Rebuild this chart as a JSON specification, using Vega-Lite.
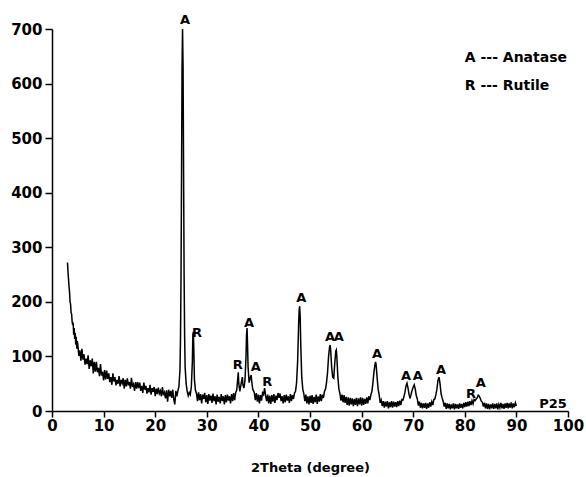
{
  "$schema": "https://vega.github.io/schema/vega-lite/v6.json",
  "width": 516,
  "height": 382,
  "autosize": "none",
  "padding": {"left": 52, "top": 29, "right": 18, "bottom": 66},
  "background": "white",
  "config": {"view": {"stroke": null}},
  "datasets": {
    "scan": [
      {"t":3.0,"i":272},{"t":3.1,"i":255},{"t":3.2,"i":242},{"t":3.3,"i":228},{"t":3.4,"i":218},{"t":3.5,"i":200},{"t":3.6,"i":196},{"t":3.7,"i":180},{"t":3.8,"i":178},{"t":3.9,"i":164},
      {"t":4.0,"i":158},{"t":4.1,"i":162},{"t":4.2,"i":140},{"t":4.3,"i":152},{"t":4.4,"i":132},{"t":4.5,"i":143},{"t":4.6,"i":122},{"t":4.7,"i":136},{"t":4.8,"i":114},{"t":4.9,"i":128},
      {"t":5.0,"i":122},{"t":5.2,"i":101},{"t":5.4,"i":111},{"t":5.6,"i":92},{"t":5.8,"i":114},{"t":6.0,"i":94},{"t":6.2,"i":104},{"t":6.4,"i":85},{"t":6.6,"i":96},{"t":6.8,"i":86},
      {"t":7.0,"i":102},{"t":7.2,"i":77},{"t":7.4,"i":93},{"t":7.6,"i":82},{"t":7.8,"i":96},{"t":8.0,"i":69},{"t":8.2,"i":90},{"t":8.4,"i":72},{"t":8.6,"i":90},{"t":8.8,"i":71},
      {"t":9.0,"i":79},{"t":9.2,"i":64},{"t":9.4,"i":86},{"t":9.6,"i":65},{"t":9.8,"i":72},{"t":10.0,"i":56},{"t":10.2,"i":75},{"t":10.4,"i":58},{"t":10.6,"i":74},{"t":10.8,"i":59},
      {"t":11.0,"i":69},{"t":11.2,"i":53},{"t":11.4,"i":62},{"t":11.6,"i":48},{"t":11.8,"i":69},{"t":12.0,"i":54},{"t":12.2,"i":62},{"t":12.4,"i":47},{"t":12.6,"i":57},{"t":12.8,"i":50},
      {"t":13.0,"i":64},{"t":13.2,"i":45},{"t":13.4,"i":57},{"t":13.6,"i":51},{"t":13.8,"i":60},{"t":14.0,"i":41},{"t":14.2,"i":57},{"t":14.4,"i":45},{"t":14.6,"i":60},{"t":14.8,"i":47},
      {"t":15.0,"i":53},{"t":15.2,"i":41},{"t":15.4,"i":61},{"t":15.6,"i":44},{"t":15.8,"i":49},{"t":16.0,"i":37},{"t":16.2,"i":53},{"t":16.4,"i":41},{"t":16.6,"i":53},{"t":16.8,"i":42},
      {"t":17.0,"i":52},{"t":17.2,"i":37},{"t":17.4,"i":46},{"t":17.6,"i":33},{"t":17.8,"i":52},{"t":18.0,"i":39},{"t":18.2,"i":46},{"t":18.4,"i":32},{"t":18.6,"i":42},{"t":18.8,"i":34},
      {"t":19.0,"i":48},{"t":19.2,"i":30},{"t":19.4,"i":42},{"t":19.6,"i":35},{"t":19.8,"i":44},{"t":20.0,"i":27},{"t":20.2,"i":41},{"t":20.4,"i":31},{"t":20.6,"i":43},{"t":20.8,"i":32},
      {"t":21.0,"i":37},{"t":21.2,"i":27},{"t":21.4,"i":44},{"t":21.6,"i":29},{"t":21.8,"i":34},{"t":22.0,"i":23},{"t":22.2,"i":38},{"t":22.4,"i":17},{"t":22.6,"i":39},{"t":22.8,"i":27},
      {"t":23.0,"i":37},{"t":23.2,"i":24},{"t":23.4,"i":39},{"t":23.6,"i":21},{"t":23.8,"i":12},{"t":24.0,"i":37},{"t":24.2,"i":27},{"t":24.4,"i":37},{"t":24.6,"i":45},{"t":24.8,"i":75},
      {"t":24.9,"i":130},{"t":25.0,"i":240},{"t":25.1,"i":420},{"t":25.2,"i":630},{"t":25.3,"i":700},{"t":25.4,"i":630},{"t":25.5,"i":440},{"t":25.6,"i":250},{"t":25.7,"i":140},{"t":25.8,"i":80},
      {"t":26.0,"i":50},{"t":26.2,"i":36},{"t":26.4,"i":28},{"t":26.6,"i":34},{"t":26.8,"i":30},{"t":27.0,"i":44},{"t":27.2,"i":90},{"t":27.3,"i":140},{"t":27.4,"i":145},{"t":27.5,"i":105},
      {"t":27.6,"i":58},{"t":27.8,"i":38},{"t":28.0,"i":32},{"t":28.2,"i":18},{"t":28.4,"i":34},{"t":28.6,"i":20},{"t":28.8,"i":31},{"t":29.0,"i":14},{"t":29.2,"i":30},{"t":29.4,"i":22},
      {"t":29.6,"i":33},{"t":29.8,"i":16},{"t":30.0,"i":29},{"t":30.2,"i":13},{"t":30.4,"i":31},{"t":30.6,"i":19},{"t":30.8,"i":28},{"t":31.0,"i":15},{"t":31.2,"i":32},{"t":31.4,"i":18},
      {"t":31.6,"i":27},{"t":31.8,"i":12},{"t":32.0,"i":30},{"t":32.2,"i":17},{"t":32.4,"i":26},{"t":32.6,"i":14},{"t":32.8,"i":31},{"t":33.0,"i":18},{"t":33.2,"i":27},{"t":33.4,"i":12},
      {"t":33.6,"i":29},{"t":33.8,"i":16},{"t":34.0,"i":30},{"t":34.2,"i":19},{"t":34.4,"i":27},{"t":34.6,"i":14},{"t":34.8,"i":31},{"t":35.0,"i":18},{"t":35.2,"i":33},{"t":35.4,"i":20},
      {"t":35.6,"i":34},{"t":35.8,"i":38},{"t":36.0,"i":60},{"t":36.1,"i":71},{"t":36.2,"i":50},{"t":36.4,"i":36},{"t":36.6,"i":47},{"t":36.8,"i":58},{"t":36.9,"i":62},{"t":37.0,"i":48},
      {"t":37.2,"i":42},{"t":37.4,"i":56},{"t":37.6,"i":100},{"t":37.7,"i":140},{"t":37.8,"i":152},{"t":37.9,"i":120},{"t":38.0,"i":80},{"t":38.2,"i":52},{"t":38.4,"i":60},{"t":38.6,"i":66},
      {"t":38.7,"i":55},{"t":38.9,"i":40},{"t":39.2,"i":34},{"t":39.4,"i":20},{"t":39.6,"i":33},{"t":39.8,"i":17},{"t":40.0,"i":30},{"t":40.2,"i":14},{"t":40.4,"i":29},{"t":40.6,"i":19},
      {"t":40.8,"i":33},{"t":41.0,"i":30},{"t":41.2,"i":42},{"t":41.4,"i":28},{"t":41.6,"i":18},{"t":41.8,"i":30},{"t":42.0,"i":14},{"t":42.2,"i":28},{"t":42.4,"i":13},{"t":42.6,"i":29},
      {"t":42.8,"i":17},{"t":43.0,"i":31},{"t":43.2,"i":15},{"t":43.4,"i":28},{"t":43.6,"i":20},{"t":43.8,"i":33},{"t":44.0,"i":24},{"t":44.2,"i":32},{"t":44.4,"i":18},{"t":44.6,"i":27},
      {"t":44.8,"i":14},{"t":45.0,"i":29},{"t":45.2,"i":16},{"t":45.4,"i":30},{"t":45.6,"i":19},{"t":45.8,"i":27},{"t":46.0,"i":15},{"t":46.2,"i":31},{"t":46.4,"i":18},{"t":46.6,"i":29},
      {"t":46.8,"i":22},{"t":47.0,"i":33},{"t":47.2,"i":36},{"t":47.4,"i":52},{"t":47.6,"i":90},{"t":47.8,"i":160},{"t":47.9,"i":185},{"t":48.0,"i":192},{"t":48.1,"i":172},{"t":48.2,"i":125},
      {"t":48.4,"i":62},{"t":48.6,"i":40},{"t":48.8,"i":32},{"t":49.0,"i":18},{"t":49.2,"i":30},{"t":49.4,"i":14},{"t":49.6,"i":27},{"t":49.8,"i":12},{"t":50.0,"i":28},{"t":50.2,"i":15},
      {"t":50.4,"i":29},{"t":50.6,"i":13},{"t":50.8,"i":26},{"t":51.0,"i":16},{"t":51.2,"i":30},{"t":51.4,"i":13},{"t":51.6,"i":27},{"t":51.8,"i":17},{"t":52.0,"i":31},{"t":52.2,"i":18},
      {"t":52.4,"i":30},{"t":52.6,"i":24},{"t":52.8,"i":36},{"t":53.0,"i":40},{"t":53.2,"i":52},{"t":53.4,"i":70},{"t":53.6,"i":100},{"t":53.8,"i":118},{"t":53.9,"i":121},{"t":54.0,"i":112},
      {"t":54.2,"i":80},{"t":54.4,"i":62},{"t":54.6,"i":60},{"t":54.8,"i":88},{"t":55.0,"i":110},{"t":55.1,"i":112},{"t":55.2,"i":100},{"t":55.4,"i":62},{"t":55.6,"i":40},{"t":55.8,"i":32},
      {"t":56.0,"i":19},{"t":56.2,"i":30},{"t":56.4,"i":16},{"t":56.6,"i":29},{"t":56.8,"i":15},{"t":57.0,"i":26},{"t":57.2,"i":11},{"t":57.4,"i":25},{"t":57.6,"i":10},{"t":57.8,"i":24},
      {"t":58.0,"i":12},{"t":58.2,"i":23},{"t":58.4,"i":9},{"t":58.6,"i":22},{"t":58.8,"i":11},{"t":59.0,"i":24},{"t":59.2,"i":9},{"t":59.4,"i":23},{"t":59.6,"i":12},{"t":59.8,"i":25},
      {"t":60.0,"i":10},{"t":60.2,"i":24},{"t":60.4,"i":11},{"t":60.6,"i":22},{"t":60.8,"i":13},{"t":61.0,"i":25},{"t":61.2,"i":14},{"t":61.4,"i":27},{"t":61.6,"i":20},{"t":61.8,"i":30},
      {"t":62.0,"i":36},{"t":62.2,"i":52},{"t":62.4,"i":72},{"t":62.6,"i":86},{"t":62.7,"i":90},{"t":62.8,"i":86},{"t":63.0,"i":62},{"t":63.2,"i":40},{"t":63.4,"i":30},{"t":63.6,"i":15},
      {"t":63.8,"i":20},{"t":64.0,"i":9},{"t":64.2,"i":18},{"t":64.4,"i":6},{"t":64.6,"i":17},{"t":64.8,"i":8},{"t":65.0,"i":18},{"t":65.2,"i":5},{"t":65.4,"i":16},{"t":65.6,"i":7},
      {"t":65.8,"i":18},{"t":66.0,"i":6},{"t":66.2,"i":17},{"t":66.4,"i":8},{"t":66.6,"i":16},{"t":66.8,"i":7},{"t":67.0,"i":18},{"t":67.2,"i":9},{"t":67.4,"i":19},{"t":67.6,"i":11},
      {"t":67.8,"i":21},{"t":68.0,"i":20},{"t":68.2,"i":26},{"t":68.4,"i":34},{"t":68.6,"i":46},{"t":68.8,"i":51},{"t":69.0,"i":42},{"t":69.2,"i":30},{"t":69.4,"i":23},{"t":69.6,"i":31},
      {"t":69.8,"i":38},{"t":70.0,"i":44},{"t":70.2,"i":48},{"t":70.4,"i":40},{"t":70.6,"i":28},{"t":70.8,"i":22},{"t":71.0,"i":10},{"t":71.2,"i":17},{"t":71.4,"i":6},{"t":71.6,"i":15},
      {"t":71.8,"i":5},{"t":72.0,"i":14},{"t":72.2,"i":6},{"t":72.4,"i":15},{"t":72.6,"i":4},{"t":72.8,"i":14},{"t":73.0,"i":6},{"t":73.2,"i":16},{"t":73.4,"i":8},{"t":73.6,"i":17},
      {"t":73.8,"i":11},{"t":74.0,"i":21},{"t":74.2,"i":22},{"t":74.4,"i":30},{"t":74.6,"i":40},{"t":74.8,"i":56},{"t":75.0,"i":62},{"t":75.2,"i":50},{"t":75.4,"i":32},{"t":75.6,"i":24},
      {"t":75.8,"i":18},{"t":76.0,"i":8},{"t":76.2,"i":15},{"t":76.4,"i":4},{"t":76.6,"i":14},{"t":76.8,"i":5},{"t":77.0,"i":13},{"t":77.2,"i":3},{"t":77.4,"i":12},{"t":77.6,"i":5},
      {"t":77.8,"i":14},{"t":78.0,"i":3},{"t":78.2,"i":13},{"t":78.4,"i":5},{"t":78.6,"i":12},{"t":78.8,"i":4},{"t":79.0,"i":14},{"t":79.2,"i":6},{"t":79.4,"i":13},{"t":79.6,"i":5},
      {"t":79.8,"i":15},{"t":80.0,"i":7},{"t":80.2,"i":16},{"t":80.4,"i":8},{"t":80.6,"i":17},{"t":80.8,"i":9},{"t":81.0,"i":18},{"t":81.2,"i":11},{"t":81.4,"i":19},{"t":81.6,"i":13},
      {"t":81.8,"i":21},{"t":82.0,"i":19},{"t":82.2,"i":22},{"t":82.4,"i":24},{"t":82.6,"i":29},{"t":82.8,"i":27},{"t":83.0,"i":23},{"t":83.2,"i":18},{"t":83.4,"i":16},{"t":83.6,"i":8},
      {"t":83.8,"i":15},{"t":84.0,"i":5},{"t":84.2,"i":14},{"t":84.4,"i":4},{"t":84.6,"i":13},{"t":84.8,"i":3},{"t":85.0,"i":12},{"t":85.2,"i":5},{"t":85.4,"i":14},{"t":85.6,"i":4},
      {"t":85.8,"i":13},{"t":86.0,"i":5},{"t":86.2,"i":14},{"t":86.4,"i":3},{"t":86.6,"i":12},{"t":86.8,"i":6},{"t":87.0,"i":15},{"t":87.2,"i":5},{"t":87.4,"i":13},{"t":87.6,"i":4},
      {"t":87.8,"i":14},{"t":88.0,"i":6},{"t":88.2,"i":15},{"t":88.4,"i":5},{"t":88.6,"i":14},{"t":88.8,"i":6},{"t":89.0,"i":16},{"t":89.2,"i":5},{"t":89.4,"i":14},{"t":89.6,"i":7},
      {"t":89.8,"i":15},{"t":90.0,"i":9}
    ],
    "peaks": [
      {"t":25.8,"i":716,"label":"A"},
      {"t":28.1,"i":143,"label":"R"},
      {"t":36.0,"i":84,"label":"R"},
      {"t":38.2,"i":161,"label":"A"},
      {"t":39.5,"i":80,"label":"A"},
      {"t":41.7,"i":53,"label":"R"},
      {"t":48.3,"i":207,"label":"A"},
      {"t":53.9,"i":136,"label":"A"},
      {"t":55.6,"i":136,"label":"A"},
      {"t":63.0,"i":104,"label":"A"},
      {"t":68.6,"i":64,"label":"A"},
      {"t":70.9,"i":64,"label":"A"},
      {"t":75.4,"i":75,"label":"A"},
      {"t":81.2,"i":31,"label":"R"},
      {"t":83.1,"i":51,"label":"A"},
      {"t":97.1,"i":13,"label":"P25"}
    ],
    "legend": [
      {"t":80.0,"i":647,"label":"A --- Anatase"},
      {"t":80.0,"i":596,"label":"R --- Rutile"}
    ]
  },
  "layer": [
    {
      "data": {"name": "scan"},
      "mark": {"type": "line", "color": "black", "strokeWidth": 1.5, "clip": true},
      "encoding": {
        "x": {
          "field": "t", "type": "quantitative",
          "scale": {"domain": [0, 100], "nice": false, "zero": false},
          "axis": {
            "values": [0,5,10,15,20,25,30,35,40,45,50,55,60,65,70,75,80,85,90,95,100],
            "labelExpr": "datum.value % 10 === 0 ? datum.label : ''",
            "tickSize": {"condition": {"test": "datum.value % 10 === 0", "value": 6}, "value": 3},
            "grid": false,
            "domainColor": "black", "domainWidth": 1.5,
            "tickColor": "black", "tickWidth": 1.5,
            "labelFont": "DejaVu Sans", "labelFontWeight": "bold", "labelFontSize": 15, "labelColor": "black",
            "labelPadding": 1, "labelFlush": false, "labelOverlap": false,
            "title": "2Theta (degree)",
            "titleFont": "DejaVu Sans", "titleFontWeight": "bold", "titleFontSize": 13, "titleColor": "black",
            "titlePadding": 28
          }
        },
        "y": {
          "field": "i", "type": "quantitative",
          "scale": {"domain": [0, 700], "nice": false},
          "axis": {
            "values": [0,50,100,150,200,250,300,350,400,450,500,550,600,650,700],
            "labelExpr": "datum.value % 100 === 0 ? datum.label : ''",
            "tickSize": {"condition": {"test": "datum.value % 100 === 0", "value": 7}, "value": 4},
            "grid": false,
            "domainColor": "black", "domainWidth": 1.5,
            "tickColor": "black", "tickWidth": 1.5,
            "labelFont": "DejaVu Sans", "labelFontWeight": "bold", "labelFontSize": 15, "labelColor": "black",
            "labelPadding": 3, "labelFlush": false, "labelOverlap": false,
            "title": null
          }
        }
      }
    },
    {
      "data": {"name": "peaks"},
      "mark": {"type": "text", "font": "DejaVu Sans", "fontWeight": "bold", "fontSize": 13, "color": "black", "align": "center", "baseline": "middle"},
      "encoding": {
        "x": {"field": "t", "type": "quantitative"},
        "y": {"field": "i", "type": "quantitative"},
        "text": {"field": "label"}
      }
    },
    {
      "data": {"name": "legend"},
      "mark": {"type": "text", "font": "DejaVu Sans", "fontWeight": "bold", "fontSize": 14, "color": "black", "align": "left", "baseline": "middle"},
      "encoding": {
        "x": {"field": "t", "type": "quantitative"},
        "y": {"field": "i", "type": "quantitative"},
        "text": {"field": "label"}
      }
    }
  ]
}
